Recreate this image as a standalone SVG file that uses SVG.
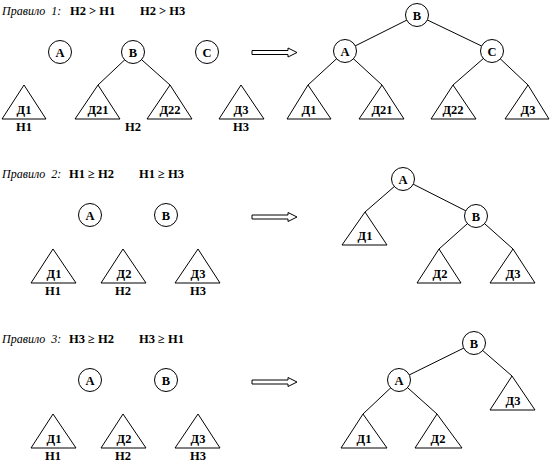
<svg xmlns="http://www.w3.org/2000/svg" width="550" height="462" viewBox="0 0 550 462">
<style>
.bg{fill:#fff}
.c{fill:#fff;stroke:#000;stroke-width:1}
.t{fill:#fff;stroke:#000;stroke-width:1}
.e{stroke:#000;stroke-width:1;fill:none}
.a{fill:#fff;stroke:#000;stroke-width:1}
.lb{font-family:"Liberation Serif","Times New Roman",serif;font-weight:bold;font-size:12.5px;text-anchor:middle;fill:#000}
.ti{font-family:"Liberation Serif","Times New Roman",serif;font-style:italic;font-size:12px;fill:#000}
.tb{font-family:"Liberation Serif","Times New Roman",serif;font-weight:bold;font-size:12.5px;fill:#000}
</style>
<defs>
<path id="arr" class="a" d="M0,-2 L36,-2 L36,-4.5 L45,0 L36,4.5 L36,2 L0,2 Z"/>
</defs>
<rect class="bg" x="0" y="0" width="550" height="462"/>

<g id="titles">
<text class="ti" x="2" y="15" xml:space="preserve">Правило  1:</text>
<text class="tb" x="70" y="15">Н2 &gt; Н1</text>
<text class="tb" x="140" y="15">Н2 &gt; Н3</text>
<text class="ti" x="2" y="178" xml:space="preserve">Правило  2:</text>
<text class="tb" x="69" y="178">Н1 ≥ Н2</text>
<text class="tb" x="139" y="178">Н1 ≥ Н3</text>
<text class="ti" x="2" y="343" xml:space="preserve">Правило  3:</text>
<text class="tb" x="69" y="343">Н3 ≥ Н2</text>
<text class="tb" x="139" y="343">Н3 ≥ Н1</text>
</g>

<g id="connectors">
<line class="e" x1="133" y1="52" x2="98" y2="85"/>
<line class="e" x1="133" y1="52" x2="170" y2="85"/>
<line class="e" x1="417" y1="15" x2="345" y2="51"/>
<line class="e" x1="417" y1="15" x2="492" y2="51"/>
<line class="e" x1="345" y1="51" x2="308" y2="85"/>
<line class="e" x1="345" y1="51" x2="382" y2="85"/>
<line class="e" x1="492" y1="51" x2="453" y2="85"/>
<line class="e" x1="492" y1="51" x2="528" y2="85"/>
<line class="e" x1="403" y1="179" x2="365" y2="212"/>
<line class="e" x1="403" y1="179" x2="476" y2="216"/>
<line class="e" x1="476" y1="216" x2="439" y2="249"/>
<line class="e" x1="476" y1="216" x2="513" y2="249"/>
<line class="e" x1="474" y1="343" x2="399" y2="380"/>
<line class="e" x1="474" y1="343" x2="512" y2="376"/>
<line class="e" x1="399" y1="380" x2="363" y2="414"/>
<line class="e" x1="399" y1="380" x2="437" y2="414"/>
</g>

<g id="arrows">
<use href="#arr" x="252" y="52.5"/>
<use href="#arr" x="252" y="217"/>
<use href="#arr" x="252" y="382"/>
</g>

<!-- Rule 1 left -->
<g id="r1-A"><circle class="c" cx="60" cy="52" r="11.5"/><text class="lb" x="60" y="56.5">A</text></g>
<g id="r1-B"><circle class="c" cx="133" cy="52" r="11.5"/><text class="lb" x="133" y="56.5">B</text></g>
<g id="r1-C"><circle class="c" cx="207" cy="52" r="11.5"/><text class="lb" x="207" y="56.5">C</text></g>
<g id="r1-D1"><polygon class="t" points="24,85 2,119 46,119"/><text class="lb" x="24" y="114">Д1</text><text class="lb" x="24" y="131">Н1</text></g>
<g id="r1-D21"><polygon class="t" points="98,85 75,119 120,119"/><text class="lb" x="98" y="114">Д21</text></g>
<g id="r1-D22"><polygon class="t" points="170,85 147,119 192,119"/><text class="lb" x="170" y="114">Д22</text></g>
<g id="r1-H2"><text class="lb" x="133" y="131">Н2</text></g>
<g id="r1-D3"><polygon class="t" points="241,85 219,119 264,119"/><text class="lb" x="241" y="114">Д3</text><text class="lb" x="241" y="131">Н3</text></g>

<!-- Rule 1 right -->
<g id="r1r-B"><circle class="c" cx="417" cy="15" r="11.5"/><text class="lb" x="417" y="19.5">B</text></g>
<g id="r1r-A"><circle class="c" cx="345" cy="51" r="11.5"/><text class="lb" x="345" y="55.5">A</text></g>
<g id="r1r-C"><circle class="c" cx="492" cy="51" r="11.5"/><text class="lb" x="492" y="55.5">C</text></g>
<g id="r1r-D1"><polygon class="t" points="308,85 287,119 331,119"/><text class="lb" x="309" y="114">Д1</text></g>
<g id="r1r-D21"><polygon class="t" points="382,85 359,119 404,119"/><text class="lb" x="382" y="114">Д21</text></g>
<g id="r1r-D22"><polygon class="t" points="453,85 431,119 476,119"/><text class="lb" x="453" y="114">Д22</text></g>
<g id="r1r-D3"><polygon class="t" points="528,85 505,119 549,119"/><text class="lb" x="528" y="114">Д3</text></g>

<!-- Rule 2 left -->
<g id="r2-A"><circle class="c" cx="90" cy="215" r="11.5"/><text class="lb" x="90" y="219.5">A</text></g>
<g id="r2-B"><circle class="c" cx="166" cy="215" r="11.5"/><text class="lb" x="166" y="219.5">B</text></g>
<g id="r2-D1"><polygon class="t" points="53,249 31,283 76,283"/><text class="lb" x="54" y="278">Д1</text><text class="lb" x="53" y="295">Н1</text></g>
<g id="r2-D2"><polygon class="t" points="123,249 101,283 146,283"/><text class="lb" x="124" y="278">Д2</text><text class="lb" x="123" y="295">Н2</text></g>
<g id="r2-D3"><polygon class="t" points="198,249 175,283 220,283"/><text class="lb" x="198" y="278">Д3</text><text class="lb" x="198" y="295">Н3</text></g>

<!-- Rule 2 right -->
<g id="r2r-A"><circle class="c" cx="403" cy="179" r="11.5"/><text class="lb" x="403" y="183.5">A</text></g>
<g id="r2r-B"><circle class="c" cx="476" cy="216" r="11.5"/><text class="lb" x="476" y="220.5">B</text></g>
<g id="r2r-D1"><polygon class="t" points="365,212 342,245 387,245"/><text class="lb" x="365" y="240">Д1</text></g>
<g id="r2r-D2"><polygon class="t" points="439,249 417,283 461,283"/><text class="lb" x="440" y="278">Д2</text></g>
<g id="r2r-D3"><polygon class="t" points="513,249 490,283 535,283"/><text class="lb" x="513" y="278">Д3</text></g>

<!-- Rule 3 left -->
<g id="r3-A"><circle class="c" cx="90" cy="380" r="11.5"/><text class="lb" x="90" y="384.5">A</text></g>
<g id="r3-B"><circle class="c" cx="166" cy="380" r="11.5"/><text class="lb" x="166" y="384.5">B</text></g>
<g id="r3-D1"><polygon class="t" points="53,414 31,448 76,448"/><text class="lb" x="54" y="443">Д1</text><text class="lb" x="53" y="460">Н1</text></g>
<g id="r3-D2"><polygon class="t" points="123,414 101,448 146,448"/><text class="lb" x="124" y="443">Д2</text><text class="lb" x="123" y="460">Н2</text></g>
<g id="r3-D3"><polygon class="t" points="198,414 175,448 220,448"/><text class="lb" x="198" y="443">Д3</text><text class="lb" x="198" y="460">Н3</text></g>

<!-- Rule 3 right -->
<g id="r3r-B"><circle class="c" cx="474" cy="343" r="11.5"/><text class="lb" x="474" y="347.5">B</text></g>
<g id="r3r-A"><circle class="c" cx="399" cy="380" r="11.5"/><text class="lb" x="399" y="384.5">A</text></g>
<g id="r3r-D3"><polygon class="t" points="512,376 490,410 535,410"/><text class="lb" x="513" y="405">Д3</text></g>
<g id="r3r-D1"><polygon class="t" points="363,414 341,448 387,448"/><text class="lb" x="364" y="443">Д1</text></g>
<g id="r3r-D2"><polygon class="t" points="437,414 415,448 462,448"/><text class="lb" x="438" y="443">Д2</text></g>
</svg>
